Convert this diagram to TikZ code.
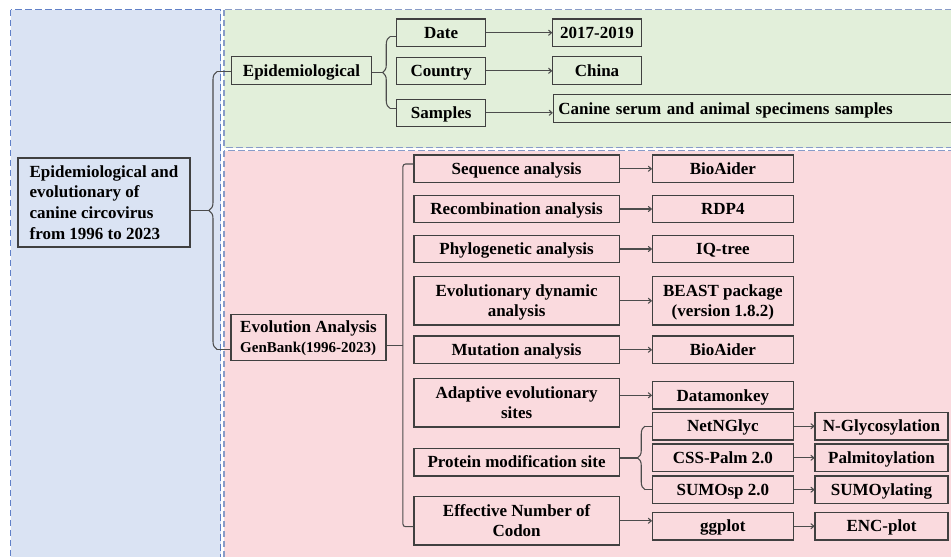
\documentclass[tikz,border=0pt]{standalone}
\usepackage{fontspec}
\setmainfont{Liberation Serif}
\usepackage{tikz}
\usetikzlibrary{arrows.meta,calc,decorations.pathreplacing}

\definecolor{panelblue}{RGB}{218,227,243}
\definecolor{panelgreen}{RGB}{226,239,218}
\definecolor{panelpink}{RGB}{250,218,222}
\definecolor{dashblue}{RGB}{96,128,200}
\definecolor{dashgray}{RGB}{136,156,200}

\begin{document}
\begin{tikzpicture}[x=0.75pt,y=-0.75pt,
  box/.style={
    draw=black!75, line width=0.9pt, inner sep=0pt, align=center,
    text height=11.35pt, text depth=2.8pt,
    font=\bfseries\fontsize{12.75}{15.5}\selectfont
  },
  two/.style={text height=26.85pt},
  sz/.style 2 args={minimum width=#1*0.75pt, minimum height=#2*0.75pt},
  link/.style={draw=black!70, line width=0.8pt},
  arr/.style={link, -{To[length=3pt,width=4.5pt]}},
  brc/.style={link, decorate, decoration={brace, amplitude=#1}},
  panel/.style={line width=1.2pt, dash pattern=on 5pt off 2.5pt},
]
\clip (0,0) rectangle (951,557);
% background panels
\filldraw[fill=panelblue, draw=dashblue, panel] (10.5,9.5) rectangle (220.5,580);
\filldraw[fill=panelgreen, draw=dashgray, panel] (224,9.5) rectangle (980,147.5);
\filldraw[fill=panelpink, draw=dashgray, panel] (224,150.5) rectangle (980,580);

% root and the two branches
\node[box, sz={172}{89}, align=left, text height=57.85pt] (main) at (104,202.5)
  {Epidemiological and\\evolutionary of\\canine circovirus\\from 1996 to 2023};
\node[box, sz={139.6}{27.6}] (epi) at (301.5,70.5) {Epidemiological};
\node[box, sz={155}{46}, align=left, text height=26pt] (evo) at (308.5,337.3)
  {Evolution Analysis\\{\fontsize{11.25}{14}\selectfont GenBank(1996-2023)}};

% epidemiological part
\node[box, sz={89}{27.3}] (date)    at (441.2,32.7)  {Date};
\node[box, sz={89}{27.3}] (country) at (441.2,70.8)  {Country};
\node[box, sz={89}{27.3}] (samples) at (441.2,112.8) {Samples};
\node[box, sz={88.6}{27.3}] (yrs)   at (597,32.7)  {2017-2019};
\node[box, sz={88.6}{27.3}] (china) at (597,70.5)  {China};
\node[box, sz={420}{28}, text width=307.5pt, align=left, anchor=west] (canine)
  at (552.7,108.3) {Canine serum and animal specimens samples};

% evolution part, left column
\node[box, sz={205.4}{27.7}] (seq) at (516.6,168.8) {Sequence analysis};
\node[box, sz={205.4}{27.7}] (rec) at (516.6,209)   {Recombination analysis};
\node[box, sz={205.4}{27.7}] (phy) at (516.6,249)   {Phylogenetic analysis};
\node[box, two, sz={205.4}{48.3}] (evd) at (516.6,300.8) {Evolutionary dynamic\\analysis};
\node[box, sz={205.4}{27.7}] (mut) at (516.6,349.8) {Mutation analysis};
\node[box, two, sz={205.4}{48.7}] (ada) at (516.6,402.7) {Adaptive evolutionary\\sites};
\node[box, sz={205.4}{27.7}] (pro) at (516.6,462.2) {Protein modification site};
\node[box, two, sz={205.4}{48.3}] (enc) at (516.6,520.8) {Effective Number of\\Codon};

% tools
\node[box, sz={140.9}{27.7}] (bio1) at (722.9,168.8) {BioAider};
\node[box, sz={140.9}{27.7}] (rdp)  at (722.9,209)   {RDP4};
\node[box, sz={140.9}{27.7}] (iqt)  at (722.9,249)   {IQ-tree};
\node[box, two, sz={140.9}{48.3}] (bea) at (722.9,300.8) {BEAST package\\(version 1.8.2)};
\node[box, sz={140.9}{27.7}] (bio2) at (722.9,349.8) {BioAider};
\node[box, sz={140.9}{27.3}] (dmk)  at (722.9,395.3) {Datamonkey};
\node[box, sz={140.9}{27.7}] (net)  at (722.9,426.2) {NetNGlyc};
\node[box, sz={140.9}{27.7}] (css)  at (722.9,457.8) {CSS-Palm 2.0};
\node[box, sz={140.9}{27.3}] (sumo) at (722.9,489.7) {SUMOsp 2.0};
\node[box, sz={140.9}{27.7}] (ggp)  at (722.9,526.2) {ggplot};

% results
\node[box, sz={133}{27.7}] (ngly) at (881.5,426.2) {N-Glycosylation};
\node[box, sz={133}{27.7}] (palm) at (881.5,457.8) {Palmitoylation};
\node[box, sz={133}{27.3}] (sumy) at (881.5,489.7) {SUMOylating};
\node[box, sz={133}{27.7}] (encp) at (881.5,526.2) {ENC-plot};

% root brace
\coordinate (mt) at (217,71.5);
\coordinate (mb) at (217,349.5);
\coordinate (mtip) at (209,210.5);
\draw[brc=6pt] (mb) -- (mt);
\draw[link] (mt) -- (mt -| epi.west);
\draw[link] (mb) -- (mb -| evo.west);
\draw[link] (main.east |- mtip) -- (mtip);

% epidemiological brace
\coordinate (et) at (390,36.7);
\coordinate (eb) at (390,108.3);
\coordinate (etip) at (382.5,72.5);
\draw[brc=5.6pt] (eb) -- (et);
\draw[link] (et) -- (et -| date.west);
\draw[link] (eb) -- (eb -| samples.west);
\draw[link] (epi.east |- etip) -- (etip);

% evolution bracket
\coordinate (pt) at (402.9,164);
\coordinate (pb) at (402.9,526.7);
\coordinate (pm) at (402.9,345.7);
\draw[link, rounded corners=2pt] (pt -| seq.west) -- (pt) -- (pb) -- (pb -| enc.west);
\draw[link] (evo.east |- pm) -- (pm);

% protein brace
\coordinate (nt) at (645,426.2);
\coordinate (nb) at (645,489.7);
\coordinate (ntip) at (637.5,458);
\draw[brc=5.6pt] (nb) -- (nt);
\draw[link] (nt) -- (net.west);
\draw[link] (nb) -- (sumo.west);
\draw[link] (pro.east |- ntip) -- (ntip);

% arrows
\draw[arr] (date.east) -- (yrs.west);
\draw[arr] (country.east) -- (country.east -| china.west);
\draw[arr] (samples.east) -- (samples.east -| canine.west);
\foreach \a/\b in {seq/bio1,rec/rdp,phy/iqt,evd/bea,mut/bio2,enc/ggp}
  \draw[arr] (\a.east) -- (\a.east -| \b.west);
\draw[arr] (ada.east |- dmk.west) -- (dmk.west);
\foreach \a/\b in {net/ngly,css/palm,sumo/sumy,ggp/encp}
  \draw[arr] (\a.east) -- (\b.west);
\end{tikzpicture}
\end{document}
